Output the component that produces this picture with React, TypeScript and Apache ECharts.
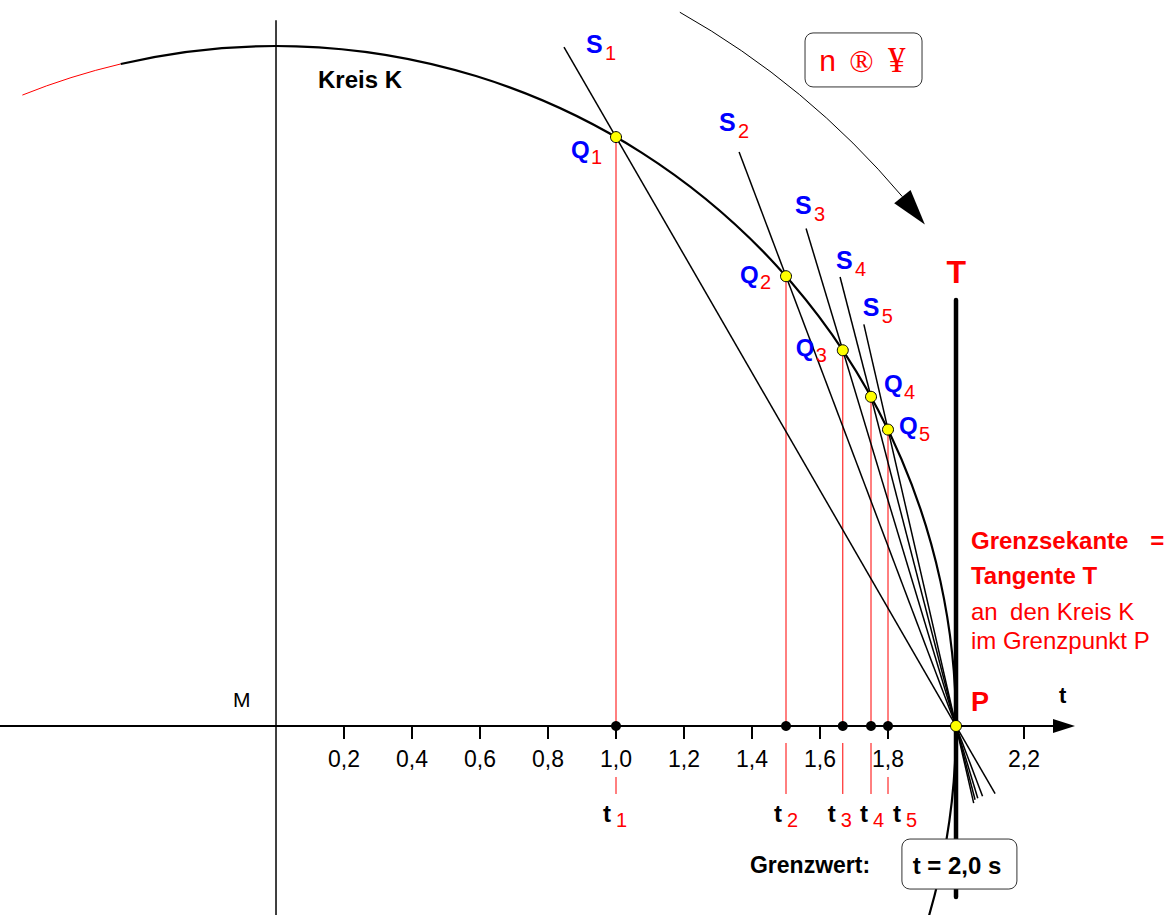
import React, { useEffect, useRef } from 'react';
import * as echarts from 'echarts';

const FONT = "'Liberation Sans', Arial, Helvetica, sans-serif";
const SERIF = "'Liberation Serif', 'Times New Roman', serif";
const BLUE = '#0000ff';
const RED = '#ff0000';

// ---------- data (t-units, circle centred at M = origin) ----------
const circleRadius = 2;
const tValues = [1.0, 1.5, 1.667, 1.75, 1.8];
const indexNames = ['1', '2', '3', '4', '5'];
const secantStartT = [0.847, 1.362, 1.559, 1.659, 1.729];
const secantEndT = [2.115, 2.078, 2.064, 2.056, 2.052];
const limitPoint = [2, 0];
const tangentYRange = [1.253, -0.503];
const dropLowerStart = [-0.15, -0.05, -0.05, -0.05, -0.15];
const dropLowerEnd = -0.2;
const tickValues = [0.2, 0.4, 0.6, 0.8, 1.0, 1.2, 1.4, 1.6, 1.8, 2.0, 2.2];
const tickLabelValues = [0.2, 0.4, 0.6, 0.8, 1.0, 1.2, 1.4, 1.6, 1.8, 2.2];
const xRange = [-0.8118, 2.6235];
const yRange = [-0.5559, 2.1353];
const xAxisLineRange = [-0.8118, 2.35];
const yAxisLineRange = [-0.5559, 2.076];
const circleRedDeg = [111.9, 103.2];
const circleBlackDeg = [103.2, -18];
const motionArc = { r: 2.412, startDeg: 60.5, baseDeg: 40.2, tipDeg: 37.7 };

// label placement offsets (px) relative to their points
const sLabelOffsets = [[22, -3], [-20, -30], [-11, -23], [-4, -17], [-1, -17]];
const qLabelOffsets = [[-45, 12], [-46, -2], [-47, -3], [13, -13], [11, -4]];
const tLabelOffsets = [[-13, 88], [-12, 88], [-15, 88], [-11, 88], [5, 88]];

const plainTexts = [
  { text: 'Kreis K', at: [0.1235, 1.901], color: '#000', size: 24, weight: 'bold', align: 'left' },
  { text: 'M', at: [-0.1265, 0.0765], color: '#000', size: 21, weight: 'normal', align: 'left' },
  { text: 't', at: [2.303, 0.091], color: '#000', size: 22, weight: 'bold', align: 'left' },
  { text: 'P', at: [2.044, 0.0706], color: RED, size: 27, weight: 'bold', align: 'left' },
  { text: 'T', at: [2.001, 1.335], color: RED, size: 32, weight: 'bold', align: 'center' },
  { text: 'Grenzsekante', at: [2.044, 0.547], color: RED, size: 24, weight: 'bold', align: 'left' },
  { text: '=', at: [2.571, 0.547], color: RED, size: 24, weight: 'bold', align: 'left' },
  { text: 'Tangente T', at: [2.044, 0.444], color: RED, size: 24, weight: 'bold', align: 'left' },
  { text: 'an', at: [2.044, 0.338], color: RED, size: 24, weight: 'normal', align: 'left' },
  { text: 'den Kreis K', at: [2.159, 0.338], color: RED, size: 24, weight: 'normal', align: 'left' },
  { text: 'im Grenzpunkt P', at: [2.044, 0.25], color: RED, size: 24, weight: 'normal', align: 'left' },
  { text: 'Grenzwert:', at: [1.394, -0.409], color: '#000', size: 23, weight: 'bold', align: 'left' },
];

const boxes = [
  { at: [1.728, 1.959], w: 117, h: 54 },
  { at: [2.01, -0.406], w: 115, h: 50 },
];
const boxTexts = [
  { text: 'n', at: [1.622, 1.956], size: 30, family: FONT, color: RED, weight: 'normal' },
  { text: '®', at: [1.722, 1.956], size: 32, family: SERIF, color: RED, weight: 'normal' },
  { text: '¥', at: [1.826, 1.956], size: 35, family: SERIF, color: RED, weight: 'normal' },
  { text: 't = 2,0 s', at: [2.003, -0.409], size: 24, family: FONT, color: '#000', weight: 'bold' },
];

const formatTick = (v: number) => v.toFixed(1).replace('.', ',');

export default function App() {
  const ref = useRef<HTMLDivElement>(null);
  useEffect(() => {
    const chart = echarts.init(ref.current as HTMLDivElement, null, { renderer: 'svg' });
    const qY = tValues.map((t) => Math.sqrt(circleRadius * circleRadius - t * t));
    const secY = (i: number, t: number) => (qY[i] * (limitPoint[0] - t)) / (limitPoint[0] - tValues[i]);
    const rad = (d: number) => (d * Math.PI) / 180;

    const subLabels: any[] = [];
    indexNames.forEach((n, i) => {
      subLabels.push({ main: 'S', sub: n, anchor: [secantStartT[i], secY(i, secantStartT[i])], off: sLabelOffsets[i], subOff: [19, 9], color: BLUE, size: 25 });
      subLabels.push({ main: 'Q', sub: n, anchor: [tValues[i], qY[i]], off: qLabelOffsets[i], subOff: [20, 8], color: BLUE, size: 24 });
      subLabels.push({ main: 't', sub: n, anchor: [tValues[i], 0], off: tLabelOffsets[i], subOff: [13, 6], color: '#000', size: 24 });
    });

    const option: any = {
      animation: false,
      grid: { left: 0, right: 0, top: 0, bottom: 0, containLabel: false, outerBoundsMode: 'none' },
      xAxis: {
        type: 'value',
        min: xRange[0],
        max: xRange[1],
        axisLine: { show: true, onZero: true, lineStyle: { opacity: 0 } },
        axisTick: { show: true, customValues: tickValues, length: 13, lineStyle: { color: '#000', width: 2 } },
        axisLabel: { show: false },
        splitLine: { show: false },
      },
      yAxis: {
        type: 'value',
        min: yRange[0],
        max: yRange[1],
        axisLine: { show: false },
        axisTick: { show: false },
        axisLabel: { show: false },
        splitLine: { show: false },
      },
      series: [
        {
          type: 'custom',
          name: 'axes',
          z: 1,
          silent: true,
          data: [[0, 0]],
          renderItem: (params: any, api: any) => {
            const xa = api.coord([xAxisLineRange[0], 0]);
            const xb = api.coord([xAxisLineRange[1], 0]);
            const ya = api.coord([0, yAxisLineRange[0]]);
            const yb = api.coord([0, yAxisLineRange[1]]);
            return {
              type: 'group',
              children: [
                { type: 'line', shape: { x1: xa[0], y1: xa[1], x2: xb[0] - 18, y2: xb[1] }, style: { stroke: '#000', lineWidth: 2 } },
                { type: 'polygon', shape: { points: [[xb[0], xb[1]], [xb[0] - 22, xb[1] - 7], [xb[0] - 22, xb[1] + 7]] }, style: { fill: '#000' } },
                { type: 'line', shape: { x1: ya[0], y1: ya[1], x2: yb[0], y2: yb[1] }, style: { stroke: '#000', lineWidth: 1.5 } },
              ],
            };
          },
        },
        {
          type: 'custom',
          name: 'tick labels',
          z: 1,
          silent: true,
          data: tickLabelValues.map((v) => [v, 0]),
          renderItem: (params: any, api: any) => {
            const v = api.value(0);
            const c = api.coord([v, 0]);
            return {
              type: 'text',
              x: c[0],
              y: c[1] + 33,
              style: { text: formatTick(v), fill: '#000', fontSize: 23, fontFamily: FONT, align: 'center', verticalAlign: 'middle' },
            };
          },
        },
        {
          type: 'custom',
          name: 'drop lines',
          z: 2,
          silent: true,
          data: tValues.map((t, i) => [t, qY[i], dropLowerStart[i], dropLowerEnd]),
          renderItem: (params: any, api: any) => {
            const t = api.value(0);
            const top = api.coord([t, api.value(1)]);
            const base = api.coord([t, 0]);
            const l1 = api.coord([t, api.value(2)]);
            const l2 = api.coord([t, api.value(3)]);
            return {
              type: 'group',
              children: [
                { type: 'line', shape: { x1: top[0], y1: top[1], x2: base[0], y2: base[1] }, style: { stroke: RED, lineWidth: 1 } },
                { type: 'line', shape: { x1: l1[0], y1: l1[1], x2: l2[0], y2: l2[1] }, style: { stroke: RED, lineWidth: 1 } },
              ],
            };
          },
        },
        {
          type: 'custom',
          name: 'secants',
          z: 3,
          silent: true,
          data: tValues.map((t, i) => [secantStartT[i], secY(i, secantStartT[i]), secantEndT[i], secY(i, secantEndT[i])]),
          renderItem: (params: any, api: any) => {
            const a = api.coord([api.value(0), api.value(1)]);
            const b = api.coord([api.value(2), api.value(3)]);
            return { type: 'line', shape: { x1: a[0], y1: a[1], x2: b[0], y2: b[1] }, style: { stroke: '#000', lineWidth: 1.5 } };
          },
        },
        {
          type: 'custom',
          name: 'circle, tangent, arrow',
          z: 4,
          silent: true,
          data: [[0, 0]],
          renderItem: (params: any, api: any) => {
            const o = api.coord([0, 0]);
            const r = api.size([circleRadius, 0])[0];
            const rm = api.size([motionArc.r, 0])[0];
            const t1 = api.coord([limitPoint[0], tangentYRange[0]]);
            const t2 = api.coord([limitPoint[0], tangentYRange[1]]);
            const tip = [o[0] + rm * Math.cos(rad(motionArc.tipDeg)), o[1] - rm * Math.sin(rad(motionArc.tipDeg))];
            const base = [o[0] + rm * Math.cos(rad(motionArc.baseDeg)), o[1] - rm * Math.sin(rad(motionArc.baseDeg))];
            const dx = tip[0] - base[0];
            const dy = tip[1] - base[1];
            const len = Math.sqrt(dx * dx + dy * dy);
            const px = (-dy / len) * 10.5;
            const py = (dx / len) * 10.5;
            return {
              type: 'group',
              children: [
                {
                  type: 'arc',
                  shape: { cx: o[0], cy: o[1], r, startAngle: -rad(circleRedDeg[0]), endAngle: -rad(circleRedDeg[1]), clockwise: true },
                  style: { stroke: RED, lineWidth: 1, fill: 'none' },
                },
                {
                  type: 'arc',
                  shape: { cx: o[0], cy: o[1], r, startAngle: -rad(circleBlackDeg[0]), endAngle: -rad(circleBlackDeg[1]), clockwise: true },
                  style: { stroke: '#000', lineWidth: 2.2, fill: 'none' },
                },
                {
                  type: 'line',
                  shape: { x1: t1[0], y1: t1[1], x2: t2[0], y2: t2[1] },
                  style: { stroke: '#000', lineWidth: 4.5, lineCap: 'round' },
                },
                {
                  type: 'arc',
                  shape: { cx: o[0], cy: o[1], r: rm, startAngle: -rad(motionArc.startDeg), endAngle: -rad(motionArc.baseDeg), clockwise: true },
                  style: { stroke: '#000', lineWidth: 1, fill: 'none' },
                },
                {
                  type: 'polygon',
                  shape: { points: [tip, [base[0] + px, base[1] + py], [base[0] - px, base[1] - py]] },
                  style: { fill: '#000' },
                },
              ],
            };
          },
        },
        {
          type: 'scatter',
          name: 'axis points',
          z: 5,
          silent: true,
          symbol: 'circle',
          symbolSize: 10,
          itemStyle: { color: '#000', opacity: 1 },
          data: tValues.map((t) => [t, 0]),
        },
        {
          type: 'scatter',
          name: 'Q and P',
          z: 6,
          silent: true,
          symbol: 'circle',
          symbolSize: 11,
          itemStyle: { color: '#ffff00', borderColor: '#000', borderWidth: 1, opacity: 1 },
          data: [...tValues.map((t, i) => [t, qY[i]]), limitPoint],
        },
        {
          type: 'custom',
          name: 'boxes',
          z: 7,
          silent: true,
          data: boxes.map((b) => b.at),
          renderItem: (params: any, api: any) => {
            const b = boxes[params.dataIndex];
            const c = api.coord([api.value(0), api.value(1)]);
            return {
              type: 'rect',
              shape: { x: c[0] - b.w / 2, y: c[1] - b.h / 2, width: b.w, height: b.h, r: 8 },
              style: { fill: '#fff', stroke: '#333', lineWidth: 1 },
            };
          },
        },
        {
          type: 'custom',
          name: 'box texts',
          z: 8,
          silent: true,
          data: boxTexts.map((b) => b.at),
          renderItem: (params: any, api: any) => {
            const b = boxTexts[params.dataIndex];
            const c = api.coord([api.value(0), api.value(1)]);
            return {
              type: 'text',
              x: c[0],
              y: c[1],
              style: { text: b.text, fill: b.color, fontSize: b.size, fontFamily: b.family, fontWeight: b.weight, align: 'center', verticalAlign: 'middle' },
            };
          },
        },
        {
          type: 'custom',
          name: 'subscript labels',
          z: 8,
          silent: true,
          data: subLabels.map((l) => l.anchor),
          renderItem: (params: any, api: any) => {
            const l = subLabels[params.dataIndex];
            const c = api.coord([api.value(0), api.value(1)]);
            const x = c[0] + l.off[0];
            const y = c[1] + l.off[1];
            return {
              type: 'group',
              children: [
                {
                  type: 'text',
                  x,
                  y,
                  style: { text: l.main, fill: l.color, fontSize: l.size, fontWeight: 'bold', fontFamily: FONT, align: 'left', verticalAlign: 'middle' },
                },
                {
                  type: 'text',
                  x: x + l.subOff[0],
                  y: y + l.subOff[1],
                  style: { text: l.sub, fill: RED, fontSize: 20, fontWeight: 'normal', fontFamily: FONT, align: 'left', verticalAlign: 'middle' },
                },
              ],
            };
          },
        },
        {
          type: 'custom',
          name: 'texts',
          z: 8,
          silent: true,
          data: plainTexts.map((p) => p.at),
          renderItem: (params: any, api: any) => {
            const p = plainTexts[params.dataIndex];
            const c = api.coord([api.value(0), api.value(1)]);
            return {
              type: 'text',
              x: c[0],
              y: c[1],
              style: { text: p.text, fill: p.color, fontSize: p.size, fontWeight: p.weight, fontFamily: FONT, align: p.align, verticalAlign: 'middle' },
            };
          },
        },
      ],
    };
    chart.setOption(option);
    return () => chart.dispose();
  }, []);
  return (
    <div
      ref={ref}
      style={{ position: 'fixed', left: 0, top: 0, width: 1168, height: 915, background: '#fff' }}
    />
  );
}
